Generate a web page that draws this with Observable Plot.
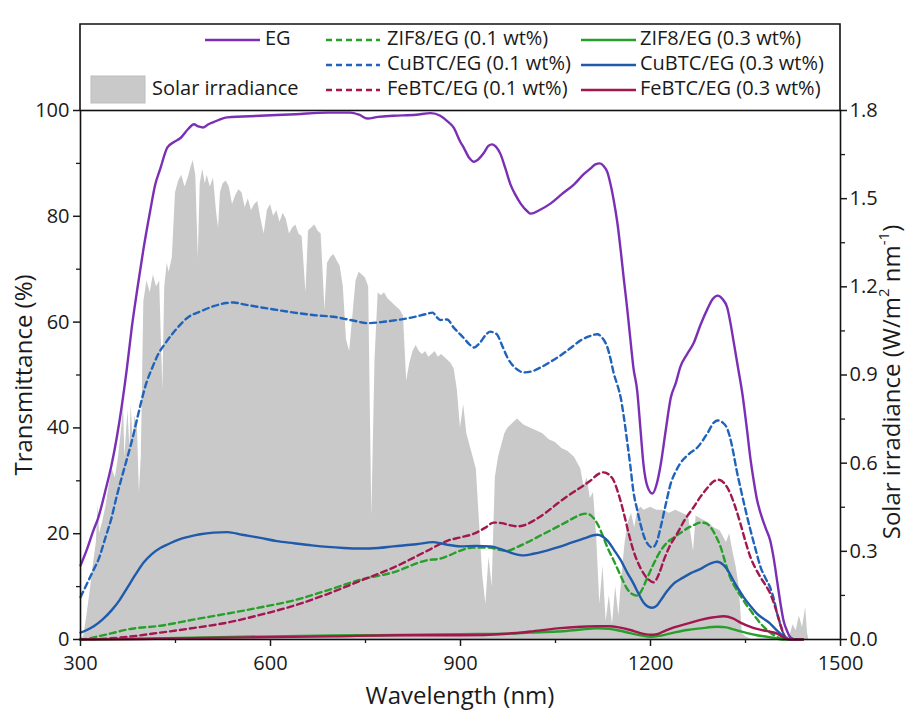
<!DOCTYPE html>
<html>
<head>
<meta charset="utf-8">
<script src="https://cdn.jsdelivr.net/npm/d3@7"></script>
<script src="https://cdn.jsdelivr.net/npm/@observablehq/plot@0.6"></script>
<style>
  html, body { margin: 0; padding: 0; background: #fff; }
  #chart svg { display: block; }
</style>
</head>
<body>
<div id="chart"></div>
<script>
// ---------- DATA ----------
// Solar irradiance (W m^-2 nm^-1), AM1.5-like spectrum
const solarWl = [300,305,310,315,320,325,328,330,335,340,345,350,355,360,365,368,370,375,378,380,383,386,390,393,396,
  400,405,410,415,420,425,430,433,437,440,445,450,455,460,465,470,475,478,482,486,489,493,497,500,505,510,515,518,521,525,
  530,535,540,545,550,555,560,565,570,575,580,585,590,595,600,605,610,615,620,625,630,635,640,645,650,656,660,665,670,675,
  680,686,690,695,700,705,710,715,720,725,730,735,740,745,750,755,760,765,770,775,780,785,790,795,800,805,810,815,820,825,
  830,835,840,845,850,855,860,865,870,875,880,885,890,895,900,905,910,915,920,925,930,935,940,945,950,955,960,965,970,975,
  980,985,990,995,1000,1010,1020,1030,1040,1050,1060,1070,1080,1090,1095,1100,1105,1110,1115,1120,1125,1130,1135,1140,1145,
  1150,1155,1160,1165,1170,1175,1180,1185,1190,1200,1210,1220,1230,1240,1250,1260,1268,1272,1280,1290,1300,1310,1320,1325,
  1330,1335,1340,1345,1350,1360,1400,1420,1425,1430,1435,1440,1445,1448,1450];
const solarIrr = [0,0.01,0.08,0.16,0.25,0.33,0.46,0.36,0.40,0.45,0.52,0.58,0.55,0.62,0.72,0.80,0.62,0.78,0.65,0.80,0.68,0.76,0.72,0.50,0.62,
  1.15,1.22,1.18,1.24,1.20,1.22,0.85,1.20,1.28,1.25,1.30,1.52,1.56,1.58,1.54,1.57,1.61,1.63,1.58,1.30,1.55,1.60,1.55,1.58,1.54,1.57,1.45,1.40,1.52,1.55,
  1.56,1.54,1.48,1.51,1.53,1.52,1.47,1.50,1.46,1.48,1.49,1.43,1.38,1.46,1.48,1.44,1.46,1.42,1.45,1.43,1.38,1.40,1.41,1.38,1.37,1.18,1.39,1.40,1.41,1.39,
  1.38,1.12,1.28,1.30,1.31,1.29,1.27,1.20,1.02,0.98,1.10,1.22,1.25,1.24,1.23,1.20,0.42,0.95,1.18,1.17,1.18,1.16,1.15,1.14,1.13,1.12,1.10,0.88,0.94,0.98,
  1.00,0.98,0.97,0.98,0.96,0.97,0.98,0.96,0.97,0.96,0.95,0.94,0.92,0.85,0.72,0.80,0.70,0.66,0.62,0.58,0.40,0.22,0.12,0.28,0.18,0.55,0.62,0.66,0.70,0.72,
  0.73,0.74,0.75,0.74,0.73,0.72,0.71,0.70,0.68,0.67,0.65,0.64,0.62,0.58,0.52,0.55,0.48,0.50,0.35,0.12,0.25,0.06,0.15,0.05,0.18,
  0.08,0.22,0.33,0.40,0.43,0.38,0.44,0.45,0.44,0.45,0.44,0.44,0.43,0.44,0.43,0.42,0.30,0.42,0.41,0.40,0.38,0.37,0.33,0.36,
  0.30,0.25,0.18,0.02,0.01,0,0.005,0.01,0.05,0.03,0.08,0.04,0.11,0.02,0];

// Transmittance (%) vs wavelength (nm)
const egData = [[300,14],[310,17],[320,20.5],[328,23],[340,28.5],[349,33],[357,38],[365,44],[373,51],[381,59],[390,66.5],[399,73.5],
  [410,81],[418,86],[426,89],[437,93],[447,94],[458,94.8],[470,96.5],[479,97.4],[486,97],[494,96.8],[502,97.4],[510,97.8],[532,98.7],
  [584,99],[640,99.3],[690,99.6],[726,99.6],[740,99.2],[753,98.5],[770,98.8],[794,99],[830,99.2],[853,99.5],[868,99],[879,98],[889,96.8],
  [900,94],[905,93],[914,91],[921,90.3],[930,91],[937,92],[944,93.3],[950,93.6],[957,93],[963,91.8],[971,89],[979,86],[987,84],[995,82.4],
  [1005,81],[1011,80.5],[1025,81.2],[1042,82.4],[1060,84.2],[1079,86],[1095,88],[1105,89],[1113,89.8],[1120,90],[1126,89.5],[1132,88.3],
  [1137,86],[1142,83],[1148,78.5],[1153,73.5],[1158,68],[1163,62.8],[1168,57],[1173,51.4],[1179,47],[1184,40],[1189,33],[1195,29],[1203,27.6],
  [1210,29.5],[1216,33],[1224,39.5],[1232,45.7],[1240,48.5],[1247,51.5],[1258,54],[1268,56],[1279,59.5],[1290,62.5],[1298,64.3],[1306,65],
  [1314,64.3],[1321,62.8],[1326,60],[1331,56.5],[1338,51.5],[1345,46.5],[1352,40],[1358,34],[1363,30],[1368,26.5],[1374,23.8],[1382,21],
  [1389,18.7],[1395,15],[1400,11],[1405,7],[1410,3.6],[1416,1.5],[1421,0.4],[1430,0],[1440,0]];
const cu01Data = [[300,8],[310,10.5],[320,13],[328,15],[340,19.5],[349,23],[357,27],[365,30.6],[373,34],[381,37.5],[390,42],[396,45],
  [404,48.5],[412,51],[423,54],[434,56],[450,58.5],[471,61],[489,62],[510,63],[530,63.6],[542,63.7],[560,63.3],[584,62.8],[610,62.3],
  [637,61.8],[670,61.3],[700,61],[730,60.3],[753,59.8],[775,60],[794,60.3],[820,60.8],[845,61.5],[856,61.8],[862,61],[868,60.4],[879,60.5],
  [889,59],[897,58],[905,57],[914,55.8],[921,55.2],[930,56],[940,57.6],[947,58.2],[953,58],[958,57.6],[966,55.5],[974,53.3],[985,51.5],
  [1000,50.5],[1013,50.7],[1026,51.4],[1042,52.5],[1058,53.7],[1075,55.2],[1089,56.5],[1103,57.3],[1116,57.7],[1124,57],[1132,55.2],
  [1137,53],[1142,50.3],[1148,48],[1153,45.7],[1158,42],[1163,37.6],[1168,33],[1173,28],[1179,24.5],[1184,21.9],[1192,18.8],[1203,17.4],
  [1210,18.5],[1216,21.2],[1224,25.5],[1232,29.5],[1240,31.8],[1247,33.3],[1260,35],[1274,36.3],[1290,39],[1300,41],[1306,41.4],[1314,41],
  [1321,39.9],[1326,38],[1331,35.2],[1336,32],[1342,28.7],[1350,24.5],[1358,20.6],[1366,17],[1374,13.6],[1382,11.5],[1389,9.8],[1395,7.5],
  [1400,4.9],[1405,2.8],[1410,1.1],[1418,0],[1440,0]];
const fe01Data = [[300,0],[330,0.1],[374,0.5],[426,1.3],[480,2.2],[532,3.2],[585,4.7],[637,6.4],[690,8.6],[742,11.1],[794,13.6],[848,16.8],
  [880,18.7],[900,19.3],[921,20],[940,21.2],[952,22.1],[965,22],[978,21.6],[990,21.4],[1003,21.7],[1016,22.5],[1035,24],[1053,25.7],
  [1070,27.2],[1089,28.7],[1105,30],[1118,31.3],[1126,31.6],[1134,31.2],[1142,30],[1150,27.3],[1158,23.8],[1165,20.3],[1173,16.8],
  [1181,14.3],[1189,12.5],[1197,11.3],[1205,10.8],[1213,12.3],[1221,15],[1231,17.8],[1242,20],[1255,22.8],[1268,25],[1279,27],[1290,28.7],
  [1300,29.9],[1307,30.2],[1316,29.6],[1326,27.6],[1334,25],[1342,21.9],[1350,18.5],[1358,15.5],[1366,13.4],[1374,11.7],[1382,10.2],
  [1389,8.7],[1395,6.8],[1400,4.9],[1406,2.5],[1412,0.5],[1420,0],[1440,0]];
const zif01Data = [[300,0],[310,0.1],[321,0.4],[350,1.2],[374,1.9],[426,2.6],[480,3.8],[532,4.9],[585,6.1],[637,7.4],[690,9.3],[742,11.3],
  [794,12.7],[848,15],[868,15.3],[880,15.8],[900,16.8],[921,17.4],[945,17.4],[960,17],[974,16.8],[990,17.5],[1006,18.4],[1027,19.7],
  [1048,21],[1064,22],[1079,23],[1090,23.6],[1100,23.8],[1108,23.2],[1116,21.9],[1124,19.8],[1132,17.4],[1140,15.4],[1147,13.6],[1155,11.5],
  [1163,9.6],[1171,8.6],[1179,8.3],[1187,9.5],[1195,11.7],[1205,14.3],[1216,16.8],[1226,18.3],[1237,19.3],[1248,20.2],[1258,21],[1268,21.6],
  [1279,22.1],[1287,22],[1295,21.2],[1303,19.6],[1311,17.4],[1318,14.6],[1326,11.7],[1334,9.8],[1342,8.3],[1350,6.8],[1358,5.5],[1366,4.2],
  [1374,3],[1385,1.7],[1395,0.8],[1405,0.2],[1415,0],[1440,0]];
const cu03Data = [[300,1.3],[310,1.8],[321,2.5],[335,3.8],[349,5.5],[362,7.5],[374,9.8],[387,12.3],[400,14.6],[413,16.2],[426,17.3],
  [440,18.1],[453,18.8],[470,19.4],[489,19.9],[510,20.2],[532,20.3],[555,19.8],[584,19.2],[610,18.6],[637,18.2],[665,17.8],[690,17.5],
  [715,17.3],[742,17.2],[770,17.3],[794,17.6],[830,18],[857,18.4],[868,18.2],[880,17.9],[900,17.6],[925,17.7],[947,17.6],[970,16.8],
  [985,16.2],[1000,15.9],[1015,16.2],[1030,16.6],[1053,17.4],[1075,18.3],[1095,19.1],[1110,19.7],[1116,19.8],[1124,19.5],[1132,18.7],
  [1142,17],[1153,15],[1163,12.7],[1173,10.6],[1181,8.7],[1189,7],[1196,6.2],[1203,6],[1210,6.4],[1216,7.4],[1226,9.1],[1237,10.6],
  [1250,11.6],[1263,12.5],[1280,13.4],[1295,14.4],[1305,14.7],[1316,14],[1324,12.7],[1331,11.1],[1339,9.5],[1347,8],[1358,6.3],[1368,4.9],
  [1380,3.8],[1389,3],[1397,2],[1405,1.1],[1412,0.4],[1420,0],[1440,0]];
const fe03Data = [[300,0],[400,0.1],[500,0.3],[600,0.45],[700,0.6],[800,0.8],[900,0.8],[974,1.1],[1010,1.5],[1053,2.1],[1090,2.4],
  [1116,2.5],[1135,2.5],[1150,2.3],[1168,1.8],[1184,1.2],[1200,0.9],[1210,1.0],[1222,1.6],[1237,2.3],[1258,3],[1279,3.7],[1300,4.2],
  [1316,4.4],[1330,4],[1342,3.2],[1360,2.3],[1379,1.7],[1392,1.4],[1400,1.1],[1410,0.4],[1420,0],[1440,0]];
const zif03Data = [[300,0],[400,0.15],[500,0.4],[600,0.6],[700,0.75],[800,0.85],[900,1.0],[974,1.1],[1010,1.3],[1053,1.5],[1090,1.9],
  [1116,2.1],[1135,2.0],[1150,1.7],[1168,1.2],[1184,0.8],[1200,0.5],[1215,0.7],[1237,1.3],[1258,1.8],[1279,2.1],[1306,2.4],[1320,2.3],
  [1331,1.9],[1350,1.3],[1368,0.8],[1385,0.5],[1395,0.3],[1408,0],[1440,0]];

// Series (drawing order) and legend
const seriesNames = ["EG","ZIF8/EG (0.1 wt%)","CuBTC/EG (0.1 wt%)","FeBTC/EG (0.1 wt%)","ZIF8/EG (0.3 wt%)","CuBTC/EG (0.3 wt%)","FeBTC/EG (0.3 wt%)"];
const seriesData = [egData, zif01Data, cu01Data, fe01Data, zif03Data, cu03Data, fe03Data];
const seriesColors = ["#7b2fb5","#27a02a","#1f63bd","#a3174f","#27a02a","#1f5aab","#a3174f"];
const seriesDashed = [false, true, true, true, false, false, false];
const solarLabel = "Solar irradiance";

// Axes ticks
const xMajor = [300,600,900,1200,1500];
const xMinor = [450,750,1050,1350];
const yMajor = [0,20,40,60,80,100];
const yMinor = [10,30,50,70,90];
const irrMajor = [0,0.3,0.6,0.9,1.2,1.5,1.8];
const irrMinor = [0.15,0.45,0.75,1.05,1.35,1.65];
const irrMax = 1.8;

// ---------- CHART ----------
const solar = solarWl.map((w, i) => ({wl: w, irr: solarIrr[i]}));
const toPct = v => v / irrMax * 100;
const FONT = "'Open Sans', sans-serif";

const lineMarks = seriesData.map((data, i) =>
  Plot.line(data, {
    x: d => d[0], y: d => d[1],
    stroke: seriesColors[i], strokeWidth: 2.4,
    strokeDasharray: seriesDashed[i] ? "6,4" : null,
    curve: "monotone-x"
  })
);

const chart = Plot.plot({
  width: 912, height: 719,
  marginLeft: 80, marginRight: 72, marginTop: 110, marginBottom: 80,
  style: {fontFamily: FONT, fontSize: "20px", color: "#1a1a1a", background: "#fff", overflow: "visible"},
  x: {domain: [300, 1500]},
  y: {domain: [0, 100]},
  marks: [
    Plot.areaY(solar, {x: "wl", y: d => toPct(d.irr), fill: "#c9c9c9", curve: "linear"}),
    ...lineMarks,
    Plot.frame({stroke: "#111", strokeWidth: 1.6}),
    Plot.axisX({ticks: xMajor, tickSize: 7, tickPadding: 9, tickFormat: d => String(d), label: null, fontSize: 20, strokeWidth: 1.5}),
    Plot.axisX({ticks: xMinor, tickSize: 4, tickFormat: () => "", label: null, strokeWidth: 1.3}),
    Plot.axisY({ticks: yMajor, tickSize: 7, tickPadding: 4, tickFormat: d => String(d), label: null, fontSize: 20, strokeWidth: 1.5}),
    Plot.axisY({ticks: yMinor, tickSize: 4, tickFormat: () => "", label: null, strokeWidth: 1.3}),
    Plot.axisY({anchor: "right", ticks: irrMajor.map(toPct), tickSize: 6, tickPadding: 3,
      tickFormat: d => (d * irrMax / 100).toFixed(1), label: null, fontSize: 20, strokeWidth: 1.5}),
    Plot.axisY({anchor: "right", ticks: irrMinor.map(toPct), tickSize: 4, tickFormat: () => "", label: null, strokeWidth: 1.3})
  ]
});
document.getElementById("chart").appendChild(chart);

// ---------- TITLES & LEGEND ----------
const svg = d3.select(chart);
const ink = "#1a1a1a";

svg.append("text").attr("transform", "translate(26,375) rotate(-90)")
  .attr("text-anchor", "middle").attr("dominant-baseline", "middle")
  .attr("font-family", FONT).attr("font-size", 24).attr("fill", ink)
  .text("Transmittance (%)");

svg.append("text").attr("x", 460).attr("y", 698)
  .attr("text-anchor", "middle").attr("dominant-baseline", "middle")
  .attr("font-family", FONT).attr("font-size", 24).attr("fill", ink)
  .text("Wavelength (nm)");

const rt = svg.append("text").attr("transform", "translate(894,382) rotate(-90)")
  .attr("text-anchor", "middle").attr("dominant-baseline", "middle")
  .attr("font-family", FONT).attr("font-size", 24).attr("fill", ink);
rt.append("tspan").text("Solar irradiance (W/m");
rt.append("tspan").attr("dy", -9).attr("font-size", 15).text("2");
rt.append("tspan").attr("dy", 9).text(" nm");
rt.append("tspan").attr("dy", -9).attr("font-size", 15).text("-1");
rt.append("tspan").attr("dy", 9).text(")");

// legend box joined with the plot frame
const lg = svg.append("g").attr("font-family", FONT).attr("font-size", 20).attr("fill", ink)
  .attr("text-anchor", "start");
lg.append("path").attr("d", "M80,110 L80,24 L840,24 L840,110")
  .attr("fill", "none").attr("stroke", "#111").attr("stroke-width", 1.6);

// legend grid positions: [line start, line end, text x, row y]
const legendSlots = [[205,260,265,40],[326,380,387,40],[326,380,387,65],[326,380,387,90],[581,636,640,40],[581,636,640,65],[581,636,640,90]];
seriesNames.forEach((name, i) => {
  const [x1, x2, tx, y] = legendSlots[i];
  lg.append("line").attr("x1", x1).attr("x2", x2).attr("y1", y).attr("y2", y)
    .attr("stroke", seriesColors[i]).attr("stroke-width", 2.5)
    .attr("stroke-dasharray", seriesDashed[i] ? "6,4" : null);
  lg.append("text").attr("x", tx).attr("y", y).attr("dominant-baseline", "middle")
    .attr("text-anchor", "start").text(name);
});
lg.append("rect").attr("x", 91).attr("y", 76).attr("width", 54).attr("height", 27)
  .attr("fill", "#c9c9c9").attr("stroke", "#bdbdbd");
lg.append("text").attr("x", 152).attr("y", 90).attr("dominant-baseline", "middle")
  .attr("text-anchor", "start").text(solarLabel);
</script>
</body>
</html>
